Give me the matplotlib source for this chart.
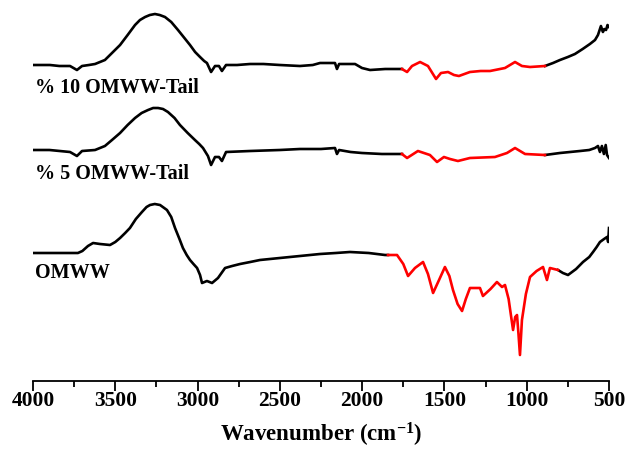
import numpy as np
import matplotlib
matplotlib.use('Agg')
import matplotlib.pyplot as plt
from matplotlib.ticker import MultipleLocator

plt.rcParams['font.family'] = ['Liberation Serif', 'DejaVu Serif']
plt.rcParams['font.weight'] = 'bold'
plt.rcParams['mathtext.fontset'] = 'custom'
plt.rcParams['mathtext.rm'] = 'Liberation Serif'

# wavenumbers (cm-1) and transmittance (arbitrary units, offset)
wn_10 = [4000, 3950, 3897, 3840, 3775, 3733, 3702, 3660, 3623, 3593, 3563, 3520, 3471, 3425,
         3380, 3350, 3319, 3290, 3259, 3230, 3198, 3160, 3119, 3080, 3046, 3015, 2985, 2960,
         2943, 2918, 2894, 2870, 2852, 2827, 2760, 2681, 2600, 2500, 2378, 2300, 2256, 2200,
         2165, 2153, 2140, 2100, 2043, 2001, 1952, 1860, 1770, 1758, 1727, 1697, 1648, 1600,
         1551, 1521, 1478, 1442, 1412, 1345, 1280, 1223, 1132, 1071, 1029, 980, 889, 840,
         798, 750, 707, 660, 616, 585, 567, 549, 537, 528, 518, 509, 500]
t_10 = [314, 314, 314, 313, 313, 309, 313, 314, 315, 317, 319, 326, 334, 344,
        354, 359, 362, 364, 365, 364, 362, 357, 349, 341, 334, 327, 322, 318,
        316, 307, 313, 313, 308, 314, 314, 315, 315, 314, 313, 314, 316, 316,
        316, 310, 315, 315, 315, 311, 309, 310, 310, 310, 307, 313, 317, 313,
        300, 306, 307, 304, 303, 307, 308, 308, 311, 317, 313, 312, 313, 316,
        319, 322, 325, 330, 335, 339, 344, 353, 347, 350, 349, 354, 352]

wn_5 = [4000, 3900, 3775, 3733, 3702, 3623, 3563, 3520, 3471, 3425, 3380, 3340, 3301, 3270,
        3240, 3210, 3180, 3140, 3107, 3060, 3016, 2990, 2967, 2937, 2918, 2894, 2870, 2852,
        2827, 2681, 2500, 2378, 2250, 2165, 2153, 2140, 2070, 2001, 1880, 1770, 1758, 1727,
        1661, 1588, 1545, 1503, 1466, 1418, 1345, 1193, 1120, 1071, 1010, 889, 798, 676,
        620, 585, 567, 555, 543, 531, 520, 512, 500]
t_5 = [229, 229, 227, 223, 228, 229, 233, 239, 246, 254, 261, 266, 269, 271,
       271, 270, 267, 261, 254, 246, 239, 235, 231, 223, 214, 222, 222, 218,
       227, 228, 229, 230, 230, 231, 225, 229, 227, 226, 225, 225, 225, 221,
       228, 224, 217, 222, 220, 218, 221, 222, 226, 231, 225, 224, 226, 228,
       229, 231, 233, 227, 233, 225, 234, 224, 221]

wn_omww = [4000, 3850, 3727, 3700, 3666, 3635, 3593, 3532, 3500, 3471, 3440, 3411, 3375, 3338,
           3310, 3289, 3260, 3228, 3186, 3160, 3137, 3110, 3089, 3066, 3046, 3025, 3003, 2985,
           2973, 2943, 2912, 2876, 2833, 2790, 2742, 2680, 2621, 2500, 2378, 2256, 2160, 2074,
           1960, 1861, 1843, 1788, 1750, 1721, 1679, 1630, 1600, 1569, 1530, 1497, 1470, 1448,
           1420, 1393, 1370, 1345, 1284, 1266, 1220, 1181, 1150, 1132, 1110, 1083, 1070, 1059,
           1050, 1041, 1029, 1005, 980, 940, 901, 877, 859, 810, 780, 749, 700, 658, 620, 597,
           575, 555, 530, 512, 505, 500]
t_omww = [126, 126, 126, 128, 133, 136, 135, 134, 137, 141, 146, 151, 160, 167,
          172, 174, 175, 174, 169, 162, 151, 140, 131, 124, 119, 115, 111, 104,
          96, 98, 96, 101, 111, 113, 115, 117, 119, 121, 123, 125, 126, 127,
          126, 124, 124, 124, 115, 103, 111, 117, 105, 86, 100, 112, 103, 89,
          75, 68, 80, 91, 91, 83, 90, 97, 92, 94, 80, 49, 62, 64,
          45, 24, 59, 85, 102, 108, 112, 99, 111, 109, 106, 104, 110, 117, 122, 127,
          132, 137, 140, 142, 137, 151]

labels = ['% 10 OMWW-Tail', '% 5 OMWW-Tail', 'OMWW']
red_ranges = [(889, 1758), (889, 1758), (810, 1843)]
label_y = [291, 205, 106]

fig = plt.figure(figsize=(6.27, 4.5), dpi=100)
ax = fig.add_axes([33 / 627, 69 / 450, 576 / 627, 381 / 450])

for wn, t, lab, (lo, hi), ly in zip([wn_10, wn_5, wn_omww], [t_10, t_5, t_omww],
                                    labels, red_ranges, label_y):
    wn = np.array(wn, dtype=float)
    t = np.array(t, dtype=float)
    inside = (wn >= lo) & (wn <= hi)
    ax.plot(wn, np.where(wn >= hi, t, np.nan), color='black', lw=1.9)
    ax.plot(wn, np.where(wn <= lo, t, np.nan), color='black', lw=1.9)
    ax.plot(wn, np.where(inside, t, np.nan), color='red', lw=1.9)
    ax.text(3985, ly, lab, fontsize=14.5, fontweight='bold', va='center', ha='left')

ax.set_xlim(4000, 500)
ax.set_ylim(-2, 379)
ax.xaxis.set_major_locator(MultipleLocator(500))
ax.xaxis.set_minor_locator(MultipleLocator(250))
ax.tick_params(axis='x', which='major', direction='out', length=7, width=1.3, labelsize=15.5, pad=0.5)
ax.tick_params(axis='x', which='minor', direction='out', length=4, width=1.3)
for lbl in ax.get_xticklabels():
    lbl.set_fontweight('bold')
ax.set_yticks([])
for s in ['left', 'right', 'top']:
    ax.spines[s].set_visible(False)
ax.spines['bottom'].set_linewidth(1.3)
ax.set_xlabel(r'Wavenumber $\mathregular{(cm^{-1})}$', fontsize=16.5, fontweight='bold', labelpad=7)

fig.savefig('out.png', dpi=100)
